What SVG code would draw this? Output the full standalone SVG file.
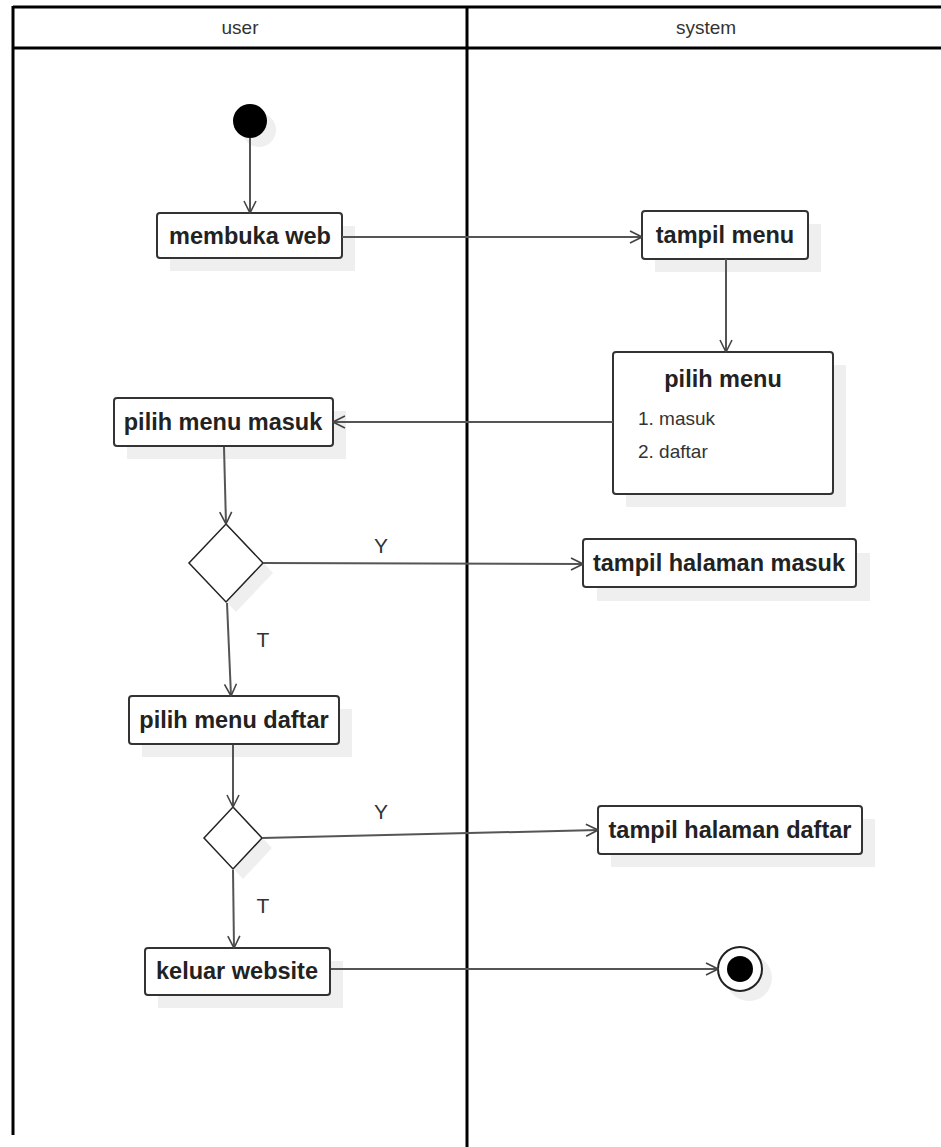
<svg xmlns="http://www.w3.org/2000/svg" width="941" height="1147" viewBox="0 0 941 1147">
  <style>
    .lane { stroke: #000; stroke-width: 3; fill: none; }
    .hdr { font-family: "Liberation Sans", Arial, sans-serif; font-size: 19px; fill: #333; text-anchor: middle; }
    .shadow { fill: #efefef; stroke: none; }
    .box { fill: #fff; stroke: #333; stroke-width: 2; }
    .lbl { font-family: "Liberation Sans", Arial, sans-serif; font-size: 23.5px; font-weight: bold; fill: #222; text-anchor: middle; }
    .item { font-family: "Liberation Sans", Arial, sans-serif; font-size: 19px; fill: #333; }
    .guard { font-family: "Liberation Sans", Arial, sans-serif; font-size: 21px; fill: #333; text-anchor: middle; }
    .edge { stroke: #555; stroke-width: 2; fill: none; marker-end: url(#open); }
    .dec { fill: #fff; stroke: #222; stroke-width: 1.5; }
  </style>
  <defs>
    <marker id="open" viewBox="0 0 14 14" refX="13" refY="7" markerWidth="14" markerHeight="14" markerUnits="userSpaceOnUse" orient="auto">
      <path d="M1,1 L13,7 L1,13" fill="none" stroke="#444" stroke-width="1.6"/>
    </marker>
  </defs>

  <rect width="941" height="1147" fill="#fff"/>

  <!-- swimlanes -->
  <g id="lanes">
    <line class="lane" x1="13" y1="7" x2="941" y2="7"/>
    <line class="lane" x1="13" y1="48" x2="941" y2="48"/>
    <line class="lane" x1="13" y1="6" x2="13" y2="1135"/>
    <line class="lane" x1="467" y1="6" x2="467" y2="1147"/>
    <text class="hdr" x="240" y="34">user</text>
    <text class="hdr" x="706" y="34">system</text>
  </g>

  <!-- drop shadows sit under every line and node -->
  <g id="shadows">
    <circle class="shadow" cx="259" cy="130" r="17"/>
    <rect class="shadow" x="170" y="226" width="185" height="45"/>
    <rect class="shadow" x="655" y="224" width="166" height="48"/>
    <rect class="shadow" x="626" y="365" width="220" height="142"/>
    <rect class="shadow" x="127" y="411" width="219" height="48"/>
    <polygon class="shadow" points="236,534 273,573 236,612 199,573"/>
    <rect class="shadow" x="597" y="553" width="273" height="48"/>
    <rect class="shadow" x="142" y="709" width="210" height="48"/>
    <polygon class="shadow" points="243,817 272,848 243,879 214,848"/>
    <rect class="shadow" x="611" y="819" width="264" height="48"/>
    <rect class="shadow" x="158" y="961" width="185" height="47"/>
    <circle class="shadow" cx="749" cy="978" r="23"/>
  </g>

  <g id="start">
    <circle cx="250" cy="121" r="17" fill="#000"/>
  </g>

  <g id="membuka-web">
    <rect class="box" x="157" y="213" width="185" height="45" rx="3"/>
    <text class="lbl" x="250" y="244">membuka web</text>
  </g>

  <g id="tampil-menu">
    <rect class="box" x="642" y="211" width="166" height="48" rx="3"/>
    <text class="lbl" x="725" y="243">tampil menu</text>
  </g>

  <g id="pilih-menu">
    <rect class="box" x="613" y="352" width="220" height="142" rx="3"/>
    <text class="lbl" x="723" y="387">pilih menu</text>
    <text class="item" x="638" y="425">1. masuk</text>
    <text class="item" x="638" y="458">2. daftar</text>
  </g>

  <g id="pilih-menu-masuk">
    <rect class="box" x="114" y="398" width="219" height="48" rx="3"/>
    <text class="lbl" x="223" y="430">pilih menu masuk</text>
  </g>

  <g id="decision-masuk">
    <polygon class="dec" points="226,524 263,563 226,602 189,563"/>
  </g>

  <g id="tampil-halaman-masuk">
    <rect class="box" x="583" y="539" width="273" height="48" rx="3"/>
    <text class="lbl" x="719" y="571">tampil halaman masuk</text>
  </g>

  <g id="pilih-menu-daftar">
    <rect class="box" x="129" y="696" width="210" height="48" rx="3"/>
    <text class="lbl" x="234" y="728">pilih menu daftar</text>
  </g>

  <g id="decision-daftar">
    <polygon class="dec" points="233,807 262,838 233,869 204,838"/>
  </g>

  <g id="tampil-halaman-daftar">
    <rect class="box" x="598" y="806" width="264" height="48" rx="3"/>
    <text class="lbl" x="730" y="838">tampil halaman daftar</text>
  </g>

  <g id="keluar-website">
    <rect class="box" x="145" y="948" width="185" height="47" rx="3"/>
    <text class="lbl" x="237" y="979">keluar website</text>
  </g>

  <g id="end">
    <circle cx="740" cy="969" r="22" fill="#fff" stroke="#222" stroke-width="2"/>
    <circle cx="740" cy="969" r="13" fill="#000"/>
  </g>

  <!-- connectors -->
  <g id="connectors">
    <line class="edge" x1="250" y1="138" x2="250" y2="213"/>
    <line class="edge" x1="342" y1="237" x2="642" y2="237"/>
    <line class="edge" x1="726" y1="259" x2="726" y2="352"/>
    <line class="edge" x1="613" y1="422" x2="333" y2="422"/>
    <line class="edge" x1="224" y1="447" x2="226" y2="524"/>
    <line class="edge" x1="263" y1="563" x2="583" y2="564"/>
    <line class="edge" x1="227" y1="603" x2="231" y2="696"/>
    <line class="edge" x1="233" y1="745" x2="233" y2="807"/>
    <line class="edge" x1="262" y1="838" x2="598" y2="830"/>
    <line class="edge" x1="233" y1="870" x2="234" y2="948"/>
    <line class="edge" x1="331" y1="969" x2="718" y2="969"/>
    <text class="guard" x="381" y="553">Y</text>
    <text class="guard" x="263" y="647">T</text>
    <text class="guard" x="381" y="819">Y</text>
    <text class="guard" x="263" y="913">T</text>
  </g>
</svg>
